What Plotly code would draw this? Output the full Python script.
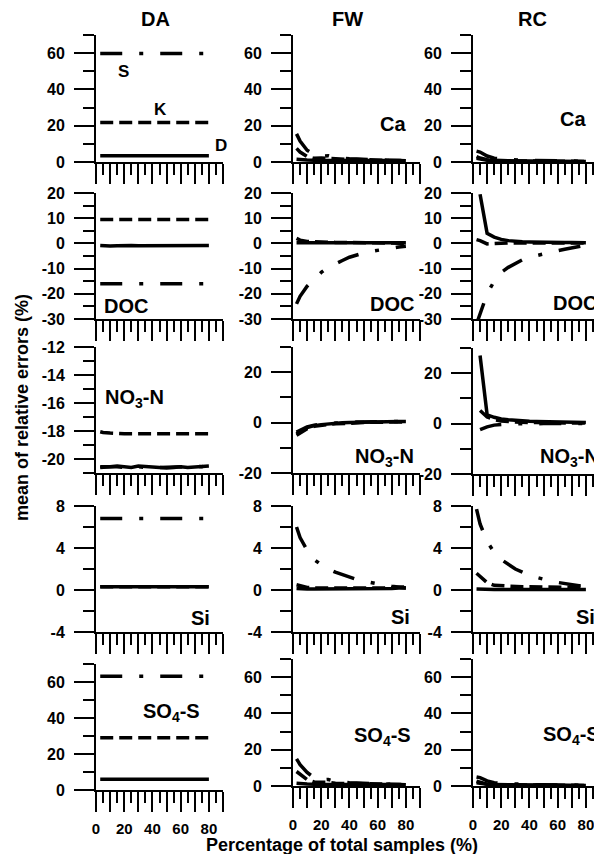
import plotly.graph_objects as go

# ---------------- data ----------------
x_da = [3, 5, 10, 15, 20, 25, 30, 35, 40, 45, 50, 55, 60, 65, 70, 75, 80]
x_pct = [2.5, 5, 10, 15, 20, 25, 30, 35, 40, 45, 50, 55, 60, 65, 70, 75, 80]

# DA column (D = solid, K = dashed, S = dash-dot)
da_ca_d = [3.5] * 17
da_ca_k = [21.8] * 17
da_ca_s = [59.8] * 17
da_doc_d = [-0.8, -0.9, -1.0, -0.9, -0.7, -0.8, -0.9, -0.9, -0.8, -0.8, -0.8, -0.8, -0.8, -0.8, -0.8, -0.8, -0.8]
da_doc_k = [9.5] * 17
da_doc_s = [-16.0] * 17
da_no3_d = [-20.6, -20.6, -20.55, -20.5, -20.55, -20.6, -20.5, -20.55, -20.6, -20.6, -20.65, -20.6, -20.55, -20.6, -20.55, -20.5, -20.5]
da_no3_k = [-18.05, -18.1, -18.15, -18.2, -18.2, -18.2, -18.2, -18.2, -18.2, -18.2, -18.2, -18.2, -18.2, -18.2, -18.2, -18.2, -18.2]
da_no3_s = [-20.55, -20.55, -20.5, -20.55, -20.6, -20.55, -20.55, -20.6, -20.65, -20.6, -20.6, -20.55, -20.6, -20.55, -20.5, -20.55, -20.5]
da_si_d = [0.3] * 17
da_si_k = [0.32] * 17
da_si_s = [6.8] * 17
da_so4_d = [6.0] * 17
da_so4_k = [29.0] * 17
da_so4_s = [63.2] * 17

# FW column
fw_ca_d = [1.5, 1.3, 1.1, 1.0, 1.0, 1.0, 1.0, 1.0, 1.2, 1.2, 1.1, 1.0, 0.9, 0.9, 0.9, 0.8, 0.7]
fw_ca_k = [7.5, 5.5, 3.0, 2.0, 2.2, 2.0, 1.5, 1.3, 1.3, 1.4, 1.3, 1.1, 1.0, 1.0, 1.0, 0.8, 0.7]
fw_ca_s = [15.5, 11.5, 6.5, 4.0, 3.2, 3.5, 2.5, 2.0, 1.8, 1.6, 1.4, 1.2, 1.0, 1.0, 0.9, 0.8, 0.7]
fw_doc_d = [0.3, 0.3, 0.4, 0.5, 0.5, 0.5, 0.5, 0.5, 0.5, 0.5, 0.5, 0.5, 0.5, 0.5, 0.4, 0.4, 0.3]
fw_doc_k = [2.0, 1.3, 0.8, 0.6, 0.5, 0.5, 0.4, 0.4, 0.4, 0.4, 0.4, 0.4, 0.4, 0.4, 0.3, 0.1, 0.0]
fw_doc_s = [-24.0, -21.0, -17.0, -14.0, -11.5, -9.5, -8.0, -6.8, -5.5, -4.6, -3.8, -3.2, -2.7, -2.2, -1.8, -1.4, -1.1]
fw_no3_d = [-4.5, -3.5, -2.0, -1.2, -0.8, -0.5, -0.3, -0.1, 0.0, 0.1, 0.2, 0.2, 0.3, 0.3, 0.3, 0.4, 0.4]
fw_no3_k = [-5.0, -4.0, -2.4, -1.5, -1.0, -0.7, -0.5, -0.3, -0.2, -0.1, 0.0, 0.1, 0.1, 0.2, 0.2, 0.3, 0.3]
fw_no3_s = [-3.8, -3.0, -1.7, -1.0, -0.6, -0.4, -0.2, 0.0, 0.1, 0.2, 0.2, 0.3, 0.3, 0.4, 0.4, 0.4, 0.5]
fw_si_d = [0.15, 0.12, 0.1, 0.1, 0.1, 0.1, 0.1, 0.1, 0.1, 0.1, 0.1, 0.1, 0.1, 0.12, 0.15, 0.2, 0.2]
fw_si_k = [0.5, 0.4, 0.25, 0.2, 0.2, 0.15, 0.15, 0.15, 0.15, 0.15, 0.15, 0.15, 0.2, 0.2, 0.25, 0.3, 0.3]
fw_si_s = [6.0, 5.0, 3.8, 2.9, 2.4, 2.0, 1.7, 1.45, 1.2, 1.0, 0.85, 0.7, 0.55, 0.45, 0.35, 0.25, 0.2]
fw_so4_d = [1.5, 1.3, 1.1, 1.0, 1.0, 1.0, 1.0, 1.0, 1.2, 1.2, 1.1, 1.0, 0.9, 0.9, 0.8, 0.8, 0.7]
fw_so4_k = [8.0, 6.5, 3.5, 2.2, 2.3, 2.0, 1.5, 1.3, 1.3, 1.4, 1.3, 1.1, 1.0, 1.0, 1.0, 0.8, 0.7]
fw_so4_s = [15.0, 11.8, 7.5, 4.5, 3.3, 3.6, 2.5, 2.0, 1.8, 1.6, 1.4, 1.2, 1.0, 1.0, 0.9, 0.8, 0.7]

# RC column
rc_ca_d = [2.0, 1.6, 1.0, 0.8, 0.7, 0.6, 0.5, 0.5, 0.5, 0.5, 0.4, 0.4, 0.4, 0.4, 0.4, 0.4, 0.3]
rc_ca_k = [3.0, 2.2, 1.2, 0.9, 0.8, 0.7, 0.6, 0.6, 0.5, 0.5, 0.5, 0.5, 0.4, 0.4, 0.4, 0.4, 0.3]
rc_ca_s = [6.0, 5.5, 3.3, 2.1, 1.6, 1.3, 1.1, 1.0, 0.9, 0.8, 0.7, 0.7, 0.6, 0.6, 0.5, 0.5, 0.4]
rc_doc_d = [None, 19.5, 4.0, 2.5, 1.6, 1.1, 0.8, 0.7, 0.6, 0.5, 0.5, 0.5, 0.4, 0.4, 0.4, 0.3, 0.3]
rc_doc_k = [1.5, 1.1, -0.2, 0.0, 0.2, 0.2, 0.2, 0.2, 0.2, 0.2, 0.2, 0.2, 0.2, 0.2, 0.2, 0.2, 0.2]
rc_doc_s = [-32.0, -28.0, -20.0, -15.0, -11.5, -9.5, -7.8, -6.5, -5.5, -4.8, -4.0, -3.4, -2.9, -2.3, -1.8, -1.2, -0.7]
rc_no3_d = [None, 27.0, 3.5, 2.5, 1.8, 1.5, 1.2, 1.0, 0.9, 0.8, 0.7, 0.6, 0.6, 0.5, 0.5, 0.5, 0.4]
rc_no3_k = [None, 5.2, 2.6, 1.6, 1.0, 0.8, 0.6, 0.5, 0.4, 0.4, 0.3, 0.3, 0.3, 0.3, 0.2, 0.2, 0.2]
rc_no3_s = [None, -2.4, -1.3, -0.6, -0.3, -0.2, -0.1, 0.0, 0.0, 0.0, 0.0, 0.0, 0.0, 0.0, 0.0, 0.0, 0.0]
rc_si_d = [0.1, 0.08, 0.05, 0.05, 0.05, 0.05, 0.05, 0.05, 0.05, 0.05, 0.05, 0.05, 0.05, 0.05, 0.05, 0.05, 0.05]
rc_si_k = [1.6, 1.3, 0.7, 0.45, 0.4, 0.35, 0.3, 0.3, 0.3, 0.3, 0.3, 0.3, 0.3, 0.3, 0.3, 0.25, 0.2]
rc_si_s = [7.7, 6.3, 4.6, 3.6, 2.9, 2.4, 2.0, 1.7, 1.4, 1.2, 1.0, 0.85, 0.72, 0.6, 0.5, 0.4, 0.3]
rc_so4_d = [1.8, 1.4, 1.0, 0.8, 0.7, 0.6, 0.6, 0.5, 0.5, 0.5, 0.5, 0.5, 0.4, 0.4, 0.4, 0.4, 0.3]
rc_so4_k = [2.6, 1.9, 1.0, 0.8, 0.7, 0.6, 0.6, 0.5, 0.5, 0.5, 0.5, 0.4, 0.4, 0.4, 0.4, 0.4, 0.3]
rc_so4_s = [5.0, 4.6, 2.8, 1.8, 1.4, 1.2, 1.0, 0.9, 0.8, 0.7, 0.7, 0.6, 0.6, 0.5, 0.5, 0.5, 0.4]

col_titles = ["DA", "FW", "RC"]
row_labels = ["Ca", "DOC", "NO<sub>3</sub>-N", "Si", "SO<sub>4</sub>-S"]
x_tick_vals = [0, 10, 20, 30, 40, 50, 60, 70, 80, 90]
x_tick_text = ["0", "", "20", "", "40", "", "60", "", "80", ""]
x_minor_vals = [5, 15, 25, 35, 45, 55, 65, 75, 85]
y_title = "mean of relative errors (%)"
x_title = "Percentage of total samples (%)"

# y axis tick labels per row / column
y_ticks_r1 = [0, 20, 40, 60]
y_ticks_r2 = [-30, -20, -10, 0, 10, 20]
y_ticks_r3_da = [-20, -18, -16, -14, -12]
y_ticks_r3 = [-20, 0, 20]
y_ticks_r4 = [-4, 0, 4, 8]
y_ticks_r5 = [0, 20, 40, 60]
y_minor_r1 = [10, 30, 50, 70]
y_minor_r2 = [-25, -15, -5, 5, 15]
y_minor_r3_da = [-21, -19, -17, -15, -13]
y_minor_r3 = [-10, 10, 30]
y_minor_r4 = [-2, 2, 6]
y_minor_r5 = [10, 30, 50, 70]

y_axes = [
    [([0, 70], y_ticks_r1, y_minor_r1)] * 3,
    [([-30, 20], y_ticks_r2, y_minor_r2)] * 3,
    [([-21, -12], y_ticks_r3_da, y_minor_r3_da), ([-20, 30], y_ticks_r3, y_minor_r3), ([-20, 30], y_ticks_r3, y_minor_r3)],
    [([-4, 8], y_ticks_r4, y_minor_r4)] * 3,
    [([0, 70], y_ticks_r5, y_minor_r5)] * 3,
]

series = [
    [(da_ca_d, da_ca_k, da_ca_s), (fw_ca_d, fw_ca_k, fw_ca_s), (rc_ca_d, rc_ca_k, rc_ca_s)],
    [(da_doc_d, da_doc_k, da_doc_s), (fw_doc_d, fw_doc_k, fw_doc_s), (rc_doc_d, rc_doc_k, rc_doc_s)],
    [(da_no3_d, da_no3_k, da_no3_s), (fw_no3_d, fw_no3_k, fw_no3_s), (rc_no3_d, rc_no3_k, rc_no3_s)],
    [(da_si_d, da_si_k, da_si_s), (fw_si_d, fw_si_k, fw_si_s), (rc_si_d, rc_si_k, rc_si_s)],
    [(da_so4_d, da_so4_k, da_so4_s), (fw_so4_d, fw_so4_k, fw_so4_s), (rc_so4_d, rc_so4_k, rc_so4_s)],
]

# ---------------- layout geometry (screen pixels) ----------------
OFF = 8                      # default page body margin
W, H = 602 - OFF, 854 - OFF  # figure size so it fills the window
col_px = [(96, 223), (293, 420), (473, 600)]
row_px = [
    [(35, 162), (35, 162), (35, 162)],
    [(193, 319), (193, 319), (193, 319)],
    [(347, 473), (347, 473), (348, 474)],
    [(506, 632), (506, 632), (506, 632)],
    [(664, 790), (659, 786), (659, 786)],
]
label_px = [
    [(None, None), (393, 124), (573, 119)],
    [(126, 306), (392, 304), (575, 303)],
    [(134, 398), (384, 457), (569, 457)],
    [(200, 618), (400, 617), (585, 617)],
    [(171, 712), (382, 736), (571, 735)],
]

FONT = "Liberation Sans, Arial, sans-serif"
line_styles = [
    dict(color="black", width=3.5, dash="solid"),
    dict(color="black", width=3.5, dash="13px,6px"),
    dict(color="black", width=3.5, dash="22px,17px,4px,17px"),
]


def px_x(p):
    return (p - OFF) / W


def px_y(p):
    return 1 - (p - OFF) / H


fig = go.Figure()
layout = {}
annotations = []
n = 0
for r in range(5):
    for c in range(3):
        n += 1
        xa = "x" if n == 1 else f"x{n}"
        ya = "y" if n == 1 else f"y{n}"
        xkey = "xaxis" if n == 1 else f"xaxis{n}"
        ykey = "yaxis" if n == 1 else f"yaxis{n}"
        xs = x_da if c == 0 else x_pct
        d, k, s = series[r][c]
        for vals, st in ((s, line_styles[2]), (k, line_styles[1]), (d, line_styles[0])):
            fig.add_trace(go.Scatter(x=xs, y=vals, mode="lines", line=st,
                                     xaxis=xa, yaxis=ya, showlegend=False,
                                     hoverinfo="skip", connectgaps=False))
        x0, x1 = col_px[c]
        y0, y1 = row_px[r][c]
        rng, yt, ym = y_axes[r][c]
        layout[xkey] = dict(
            domain=[px_x(x0), min(1.0, px_x(x1))], range=[0, 90], anchor=ya, automargin=False,
            showline=True, linewidth=2, linecolor="black", showgrid=False, zeroline=False,
            ticks="outside", ticklen=20, tickwidth=2, tickcolor="black",
            tickmode="array", tickvals=x_tick_vals, ticktext=x_tick_text,
            showticklabels=(r == 4), ticklabelstandoff=4,
            tickfont=dict(family=FONT, size=15, color="black", weight="bold"),
            minor=dict(tickmode="array", tickvals=x_minor_vals, ticks="outside",
                       ticklen=11, tickwidth=2, tickcolor="black", showgrid=False),
            fixedrange=True,
        )
        layout[ykey] = dict(
            domain=[px_y(y1), px_y(y0)], range=rng, anchor=xa, automargin=False,
            showline=True, linewidth=2, linecolor="black", showgrid=False, zeroline=False,
            ticks="outside", ticklen=20, tickwidth=2, tickcolor="black",
            tickmode="array", tickvals=yt, ticktext=[str(v) for v in yt],
            ticklabelstandoff=6,
            tickfont=dict(family=FONT, size=16, color="black", weight="bold"),
            minor=dict(tickmode="array", tickvals=ym, ticks="outside",
                       ticklen=11, tickwidth=2, tickcolor="black", showgrid=False),
            fixedrange=True,
        )
        lx, ly = label_px[r][c]
        if lx is not None:
            annotations.append(dict(
                text=row_labels[r], x=px_x(lx), y=px_y(ly), xref="paper", yref="paper",
                xanchor="center", yanchor="middle", showarrow=False,
                font=dict(family=FONT, size=20, color="black", weight="bold")))

# DA Ca series labels
for txt, (lx, ly) in (("S", (123, 71)), ("K", (160, 109)), ("D", (221, 145))):
    annotations.append(dict(
        text=txt, x=px_x(lx), y=px_y(ly), xref="paper", yref="paper",
        xanchor="center", yanchor="middle", showarrow=False,
        font=dict(family=FONT, size=17, color="black", weight="bold")))

# column titles
for txt, lx in zip(col_titles, (155, 347, 532)):
    annotations.append(dict(
        text=txt, x=px_x(lx), y=px_y(19), xref="paper", yref="paper",
        xanchor="center", yanchor="middle", showarrow=False,
        font=dict(family=FONT, size=20, color="black", weight="bold")))

annotations.append(dict(
    text=y_title, x=px_x(22), y=px_y(408), xref="paper", yref="paper",
    xanchor="center", yanchor="middle", showarrow=False, textangle=-90,
    font=dict(family=FONT, size=18, color="black", weight="bold")))
annotations.append(dict(
    text=x_title, x=px_x(342), y=px_y(845), xref="paper", yref="paper",
    xanchor="center", yanchor="middle", showarrow=False,
    font=dict(family=FONT, size=18, color="black", weight="bold")))

fig.update_layout(
    width=W, height=H, margin=dict(l=0, r=0, t=0, b=0, autoexpand=False),
    paper_bgcolor="white", plot_bgcolor="white",
    font=dict(family=FONT, size=16, color="black"),
    annotations=annotations, showlegend=False,
    **layout,
)

fig.write_html("out.html")
